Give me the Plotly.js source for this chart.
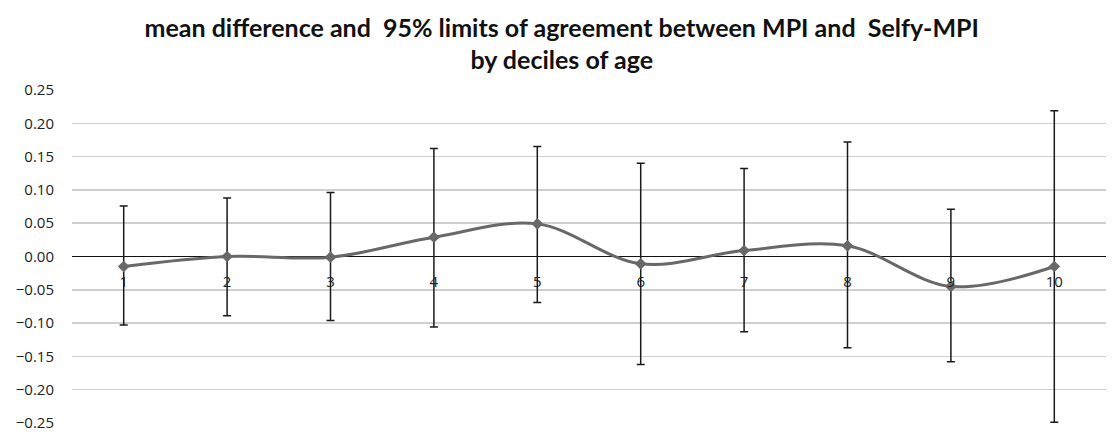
<!DOCTYPE html>
<html>
<head>
<meta charset="utf-8">
<script src="https://cdn.plot.ly/plotly-3.0.1.min.js"></script>
<style>html,body{margin:0;padding:0;background:#fff;}#chart{width:1119px;height:442px;}</style>
</head>
<body>
<div id="chart"></div>
<script>
const deciles = ['1','2','3','4','5','6','7','8','9','10'];
const meanDiff = [-0.015, 0.000, -0.001, 0.029, 0.049, -0.011, 0.009, 0.016, -0.045, -0.015];
const upperLoA = [0.076, 0.088, 0.096, 0.162, 0.165, 0.140, 0.132, 0.172, 0.071, 0.219];
const lowerLoA = [-0.103, -0.089, -0.096, -0.106, -0.069, -0.162, -0.113, -0.137, -0.158, -0.249];
const yTicks = [0.25, 0.20, 0.15, 0.10, 0.05, 0.00, -0.05, -0.10, -0.15, -0.20, -0.25];

const plus = upperLoA.map((u, i) => u - meanDiff[i]);
const minus = lowerLoA.map((l, i) => meanDiff[i] - l);

const trace = {
  x: deciles, y: meanDiff, type: 'scatter', mode: 'lines+markers',
  line: {shape: 'spline', smoothing: 1, color: '#686868', width: 3},
  marker: {symbol: 'diamond', size: 9, color: '#686868'},
  error_y: {type: 'data', symmetric: false, array: plus, arrayminus: minus,
            color: '#1a1a1a', thickness: 1.5, width: 4},
  hoverinfo: 'x+y'
};

const layout = {
  width: 1119, height: 442,
  margin: {l: 72, r: 13, t: 90, b: 19},
  paper_bgcolor: '#fff', plot_bgcolor: '#fff',
  font: {family: 'Open Sans, sans-serif', color: '#333'},
  title: {text: 'mean difference and  95% limits of agreement between MPI and  Selfy-MPI<br>by deciles of age',
          font: {size: 25, color: '#111', family: 'Lato, Open Sans, sans-serif', weight: 'bold'},
          x: 0.502, xanchor: 'center', yref: 'container', y: 0.917, yanchor: 'middle'},
  showlegend: false,
  xaxis: {type: 'category', range: [-0.5, 9.5], anchor: 'free', position: 0.5,
          showgrid: false, zeroline: false, showline: false, ticks: '',
          ticklabelstandoff: 14, tickfont: {size: 15, color: '#222'}},
  yaxis: {range: [-0.25, 0.25], tickvals: yTicks, tickformat: '.2f',
          showgrid: true, gridcolor: '#cfcfcf', gridwidth: 1.5,
          zeroline: true, zerolinecolor: '#111', zerolinewidth: 1.5,
          showline: false, ticks: '', ticklabelstandoff: 17,
          tickfont: {size: 15, color: '#222'}}
};

Plotly.newPlot('chart', [trace], layout, {displayModeBar: false, staticPlot: true});
</script>
</body>
</html>
